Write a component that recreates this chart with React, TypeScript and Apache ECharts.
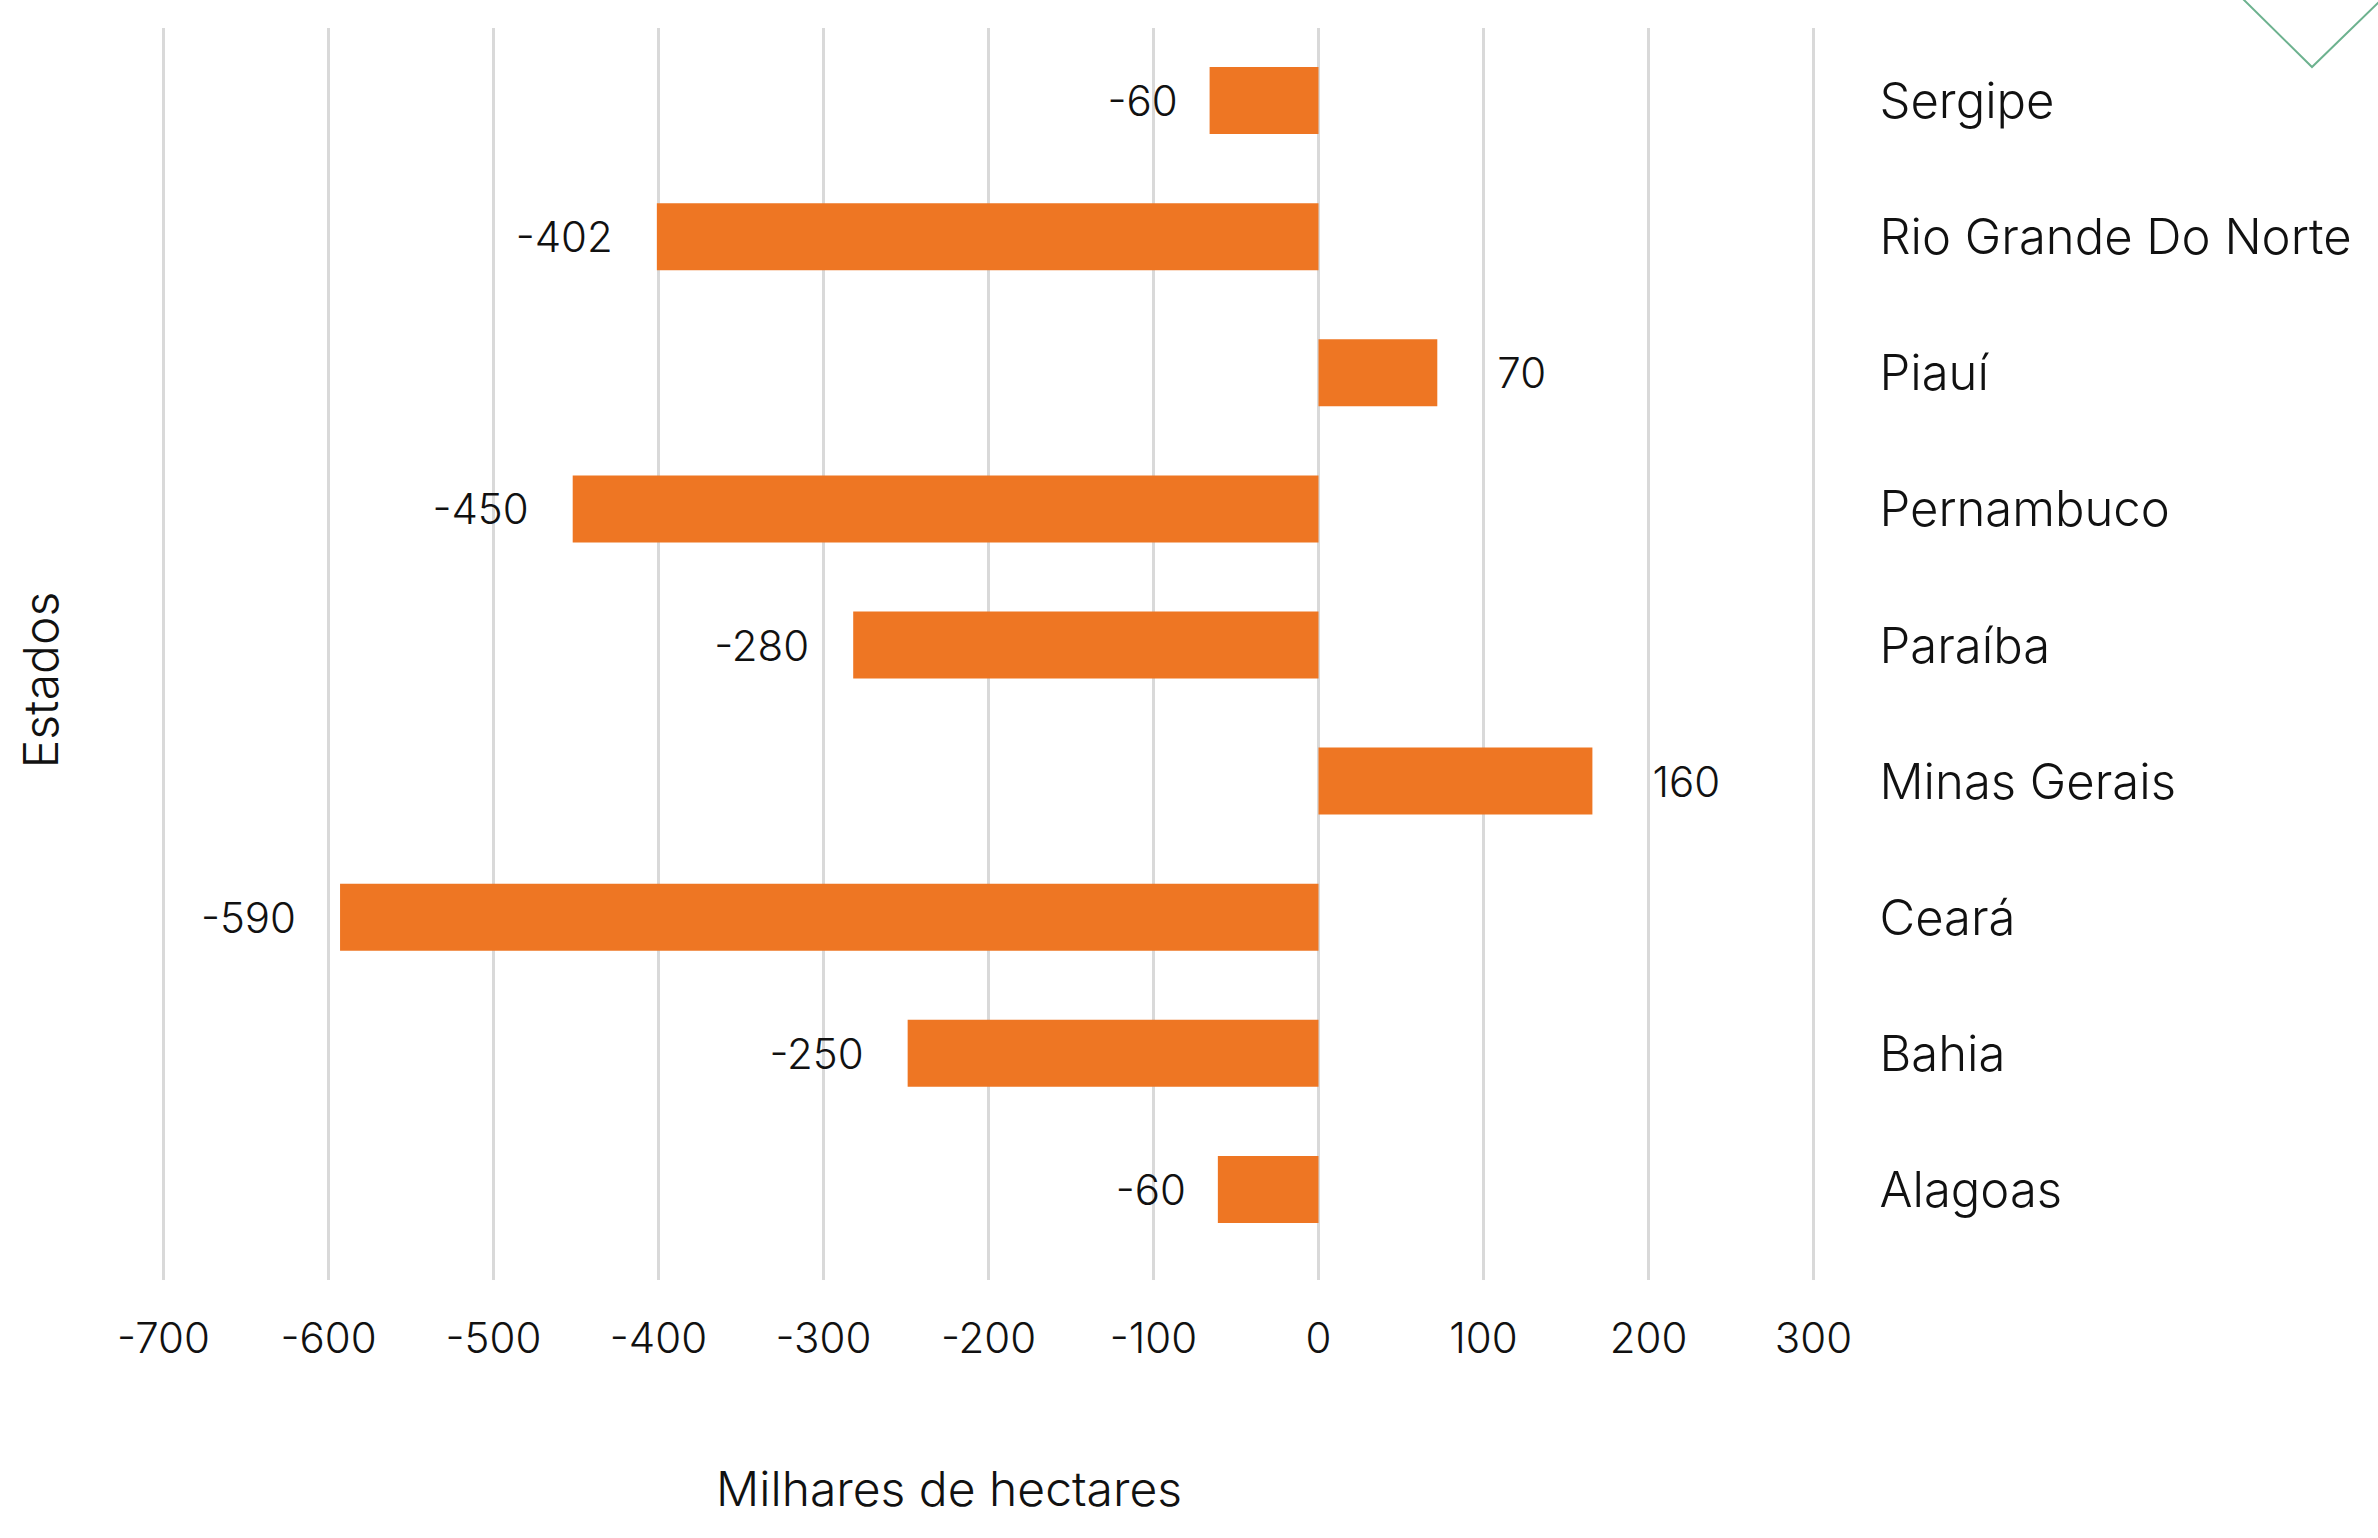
import React, { useEffect, useRef } from "react";
import * as echarts from "echarts";

// Categories bottom-to-top (ECharts category y axis starts at the bottom)
const categories = [
  "Alagoas",
  "Bahia",
  "Ceará",
  "Minas Gerais",
  "Paraíba",
  "Pernambuco",
  "Piauí",
  "Rio Grande Do Norte",
  "Sergipe",
];
// Bar lengths as drawn (thousand hectares)
const values = [-61, -249, -593, 166, -282, -452, 72, -401, -66];
// Data labels as printed in the chart
const valueLabels = ["-60", "-250", "-590", "160", "-280", "-450", "70", "-402", "-60"];

const xMin = -700;
const xMax = 300;
const xInterval = 100;

const xTitle = "Milhares de hectares";
const yTitle = "Estados";

const FONT = "Inter";
const TEXT = "#111111";

export default function App() {
  const ref = useRef<HTMLDivElement>(null);

  useEffect(() => {
    if (!ref.current) return;
    const chart = echarts.init(ref.current, undefined, { renderer: "svg" });
    const left = 163.5;
    const right = 2378 - 1813.5;

    const option: any = {
      animation: false,
      backgroundColor: "#ffffff",
      textStyle: { fontFamily: FONT, fontWeight: 300 },
      grid: [
        { left, right, top: 28, height: 1252 },
        { left, right, top: 32.5, height: 1225 },
      ],
      xAxis: [
        {
          type: "value",
          gridIndex: 0,
          min: xMin,
          max: xMax,
          interval: xInterval,
          axisLine: { show: false },
          axisTick: { show: false },
          splitLine: { show: true, lineStyle: { color: "#d9d9d9", width: 3 } },
          axisLabel: {
            fontFamily: FONT,
            fontWeight: 300,
            fontSize: 42,
            color: TEXT,
            margin: 36,
          },
        },
        {
          type: "value",
          gridIndex: 1,
          min: xMin,
          max: xMax,
          interval: xInterval,
          show: false,
          splitLine: { show: false },
        },
      ],
      yAxis: [
        { type: "value", gridIndex: 0, show: false, splitLine: { show: false } },
        {
          type: "category",
          gridIndex: 1,
          data: categories,
          position: "right",
          axisLine: { show: false, onZero: false },
          axisTick: { show: false },
          splitLine: { show: false },
          axisLabel: {
            align: "left",
            margin: 66,
            fontFamily: FONT,
            fontWeight: 300,
            fontSize: 49,
            color: TEXT,
          },
        },
      ],
      series: [
        {
          type: "bar",
          xAxisIndex: 1,
          yAxisIndex: 1,
          barWidth: 67,
          itemStyle: { color: "#EE7623" },
          data: values.map((v, i) => ({
            value: v,
            label: {
              show: true,
              position: v < 0 ? "left" : "right",
              distance: v < 0 ? (v > -100 ? 32 : 44) : 60,
              formatter: valueLabels[i],
              fontFamily: FONT,
              fontWeight: 300,
              fontSize: 42,
              color: TEXT,
            },
          })),
        },
      ],
      graphic: [
        {
          type: "text",
          x: 949,
          y: 1488,
          style: {
            text: xTitle,
            fontFamily: FONT,
            fontWeight: 300,
            fontSize: 48,
            fill: TEXT,
            textAlign: "center",
            textVerticalAlign: "middle",
          },
        },
        {
          type: "text",
          x: 40,
          y: 680,
          rotation: Math.PI / 2,
          style: {
            text: yTitle,
            fontFamily: FONT,
            fontWeight: 300,
            fontSize: 48,
            fill: TEXT,
            textAlign: "center",
            textVerticalAlign: "middle",
          },
        },
        {
          type: "polyline",
          shape: {
            points: [
              [2243, -1],
              [2312, 67],
              [2380, 1],
            ],
          },
          style: { stroke: "#6DB28F", lineWidth: 2, fill: "none" },
        },
      ],
    };

    chart.setOption(option);
    return () => chart.dispose();
  }, []);

  return (
    <div
      ref={ref}
      style={{ position: "fixed", left: 0, top: 0, width: 2378, height: 1538 }}
    />
  );
}
